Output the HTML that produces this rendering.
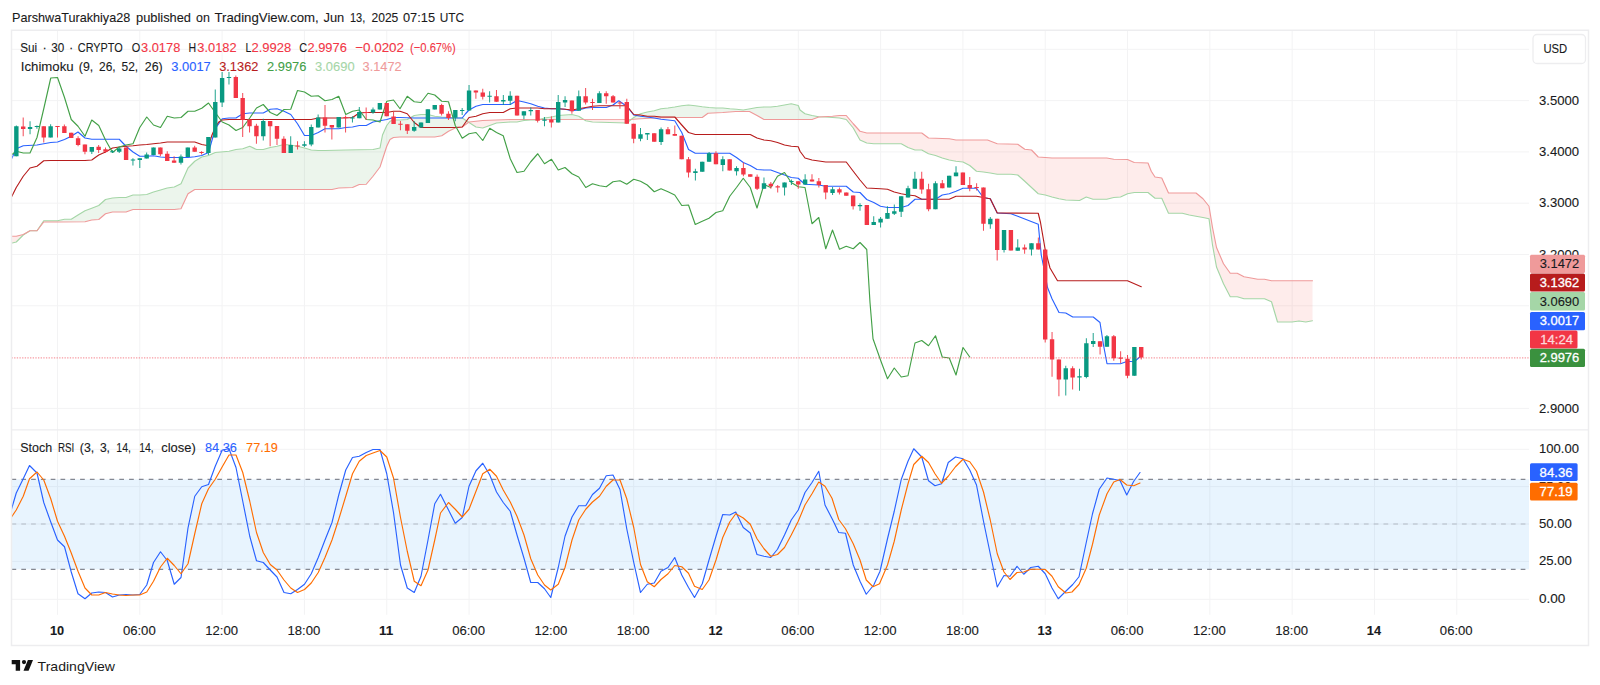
<!DOCTYPE html>
<html lang="en"><head><meta charset="utf-8"><title>Sui chart</title>
<style>
html,body{margin:0;padding:0;background:#fff;}
body{width:1600px;height:685px;overflow:hidden;position:relative;font-family:"Liberation Sans", "DejaVu Sans", sans-serif;}
svg text{white-space:pre;}
</style></head><body>
<svg width="1600" height="685" viewBox="0 0 1600 685" style="position:absolute;left:0;top:0;font-family:'Liberation Sans', 'DejaVu Sans', sans-serif">
<rect x="0" y="0" width="1600" height="685" fill="#ffffff"/>
<path d="M11.5 49.3 H1529 M11.5 100.6 H1529 M11.5 151.9 H1529 M11.5 203.2 H1529 M11.5 254.5 H1529 M11.5 305.8 H1529 M11.5 408.4 H1529 M11.5 449.3 H1529 M11.5 486.6 H1529 M11.5 524 H1529 M11.5 561.4 H1529 M11.5 599.3 H1529 M57.5 30.5 V614.8 M139.81 30.5 V614.8 M222.12 30.5 V614.8 M304.43 30.5 V614.8 M386.74 30.5 V614.8 M469.05 30.5 V614.8 M551.36 30.5 V614.8 M633.67 30.5 V614.8 M715.98 30.5 V614.8 M798.29 30.5 V614.8 M880.6 30.5 V614.8 M962.91 30.5 V614.8 M1045.22 30.5 V614.8 M1127.53 30.5 V614.8 M1209.84 30.5 V614.8 M1292.15 30.5 V614.8 M1374.46 30.5 V614.8 M1456.77 30.5 V614.8" stroke="#f3f3f4" stroke-width="1" fill="none"/>
<rect x="11.5" y="479.3" width="1517.5" height="90" fill="#2196f3" fill-opacity="0.1"/>
<path d="M11.5 479.3 H1529 M11.5 569.3 H1529" stroke="#696c77" stroke-width="1" stroke-dasharray="4.7 5.1" fill="none"/>
<path d="M11.5 524 H1529" stroke="#787b86" stroke-opacity="0.45" stroke-width="1" stroke-dasharray="4.7 5.1" fill="none"/>
<clipPath id="cp"><rect x="11.5" y="30.5" width="1517.5" height="400"/></clipPath>
<g clip-path="url(#cp)">
<path d="M11.25 243.25 L16.25 242 L23.25 235 L29.75 230.91 L30.25 230.75 L36.75 230.75 L37.25 230.38 L37.25 230.43 L36.75 230.75 L30.25 230.75 L29.75 230.89 L23.25 234.5 L16.25 236.25 L11.25 236.25Z" fill="#f44336" fill-opacity="0.1" stroke="none"/>
<path d="M37.25 230.38 L43.75 220.75 L57.25 220.75 L57.75 220.7 L64.25 219.3 L64.75 219.25 L71.25 219.25 L84.75 210.9 L85.25 210.66 L98.75 205.5 L105.25 199.72 L105.75 199.45 L112.25 198.05 L119.25 197.5 L125.75 197.5 L126.25 197.41 L132.75 195.09 L133.25 195 L139.75 195 L146.75 194.5 L153.75 191.93 L167.25 188 L174.25 187 L180.75 183.87 L181.25 183.19 L187.75 168.56 L188.25 167.75 L194.75 161.25 L201.75 157 L208.25 155.56 L208.75 155.39 L215.25 152.5 L228.75 151.27 L235.75 149.56 L242.75 148.75 L249.75 146.25 L256.25 149.38 L256.75 149.5 L263.25 149.5 L270.25 147.5 L277.25 146.19 L283.75 144.56 L284.25 144.52 L290.75 145 L297.75 146.31 L304.75 148.07 L311.25 150 L318.25 150.5 L372.75 149.5 L373.25 149.45 L379.75 148.05 L380.25 146.7 L382.25 136.3 L382.75 134.44 L386.75 125.5 L389.75 121.58 L390.25 121.16 L393.25 120.09 L393.75 120 L400.25 119.98 L407.25 119.5 L414.25 115.5 L420.75 114.54 L427.75 114.5 L428.25 114.56 L434.75 116.25 L455.25 118 L462.25 118 L468.75 122.33 L468.75 122.19 L462.25 127 L455.25 128 L448.75 131.13 L448.25 131.42 L441.75 135.75 L434.75 137 L399.75 137.02 L393.75 137.48 L393.25 137.64 L390.25 139.36 L389.75 140.02 L386.75 146.25 L380.25 166.23 L379.75 167.33 L373.25 175.92 L366.25 184.25 L359.25 184.5 L352.75 187.39 L352.25 187.51 L338.75 188 L332.25 189.44 L331.75 189.5 L194.75 189.5 L188.25 193.59 L187.75 194.29 L181.25 208.21 L180.75 208.78 L174.25 209.5 L133.25 209.5 L132.75 209.59 L126.25 211.91 L125.75 212 L112.75 212 L112.25 212.06 L105.75 213.69 L105.25 213.96 L98.75 219.5 L91.75 220 L85.25 221.69 L84.75 221.75 L43.75 222 L37.25 230.43Z" fill="#43a047" fill-opacity="0.1" stroke="none"/>
<path d="M468.75 122.33 L475.75 126.84 L476.25 127.04 L482.75 128 L496.25 123.09 L496.75 122.98 L510.25 122 L516.75 122 L517.25 121.95 L523.75 120.55 L530.75 120 L537.75 120 L539.75 119.41 L539.75 119.44 L482.75 120.5 L469.25 121.97 L468.75 122.19Z" fill="#f44336" fill-opacity="0.1" stroke="none"/>
<path d="M539.75 119.41 L544.25 118.07 L551.75 116.94 L558.25 115.5 L571.75 114.52 L572.25 114.56 L578.75 116.25 L583.75 119.46 L583.75 119.35 L539.75 119.44Z" fill="#43a047" fill-opacity="0.1" stroke="none"/>
<path d="M583.75 119.46 L585.75 120.75 L592.25 121.95 L626.75 123 L631.75 119.07 L631.75 119.25 L583.75 119.35Z" fill="#f44336" fill-opacity="0.1" stroke="none"/>
<path d="M631.75 119.07 L633.75 117.5 L640.25 113.89 L640.75 113.69 L647.25 112 L654.25 110.75 L660.75 108.82 L661.25 108.72 L674.75 107 L681.75 105.75 L688.25 105.03 L688.75 105.03 L709.25 107.52 L716.25 108 L722.75 108 L743.25 110 L756.75 107.55 L764.25 107 L770.75 107 L777.75 106.21 L791.25 103.75 L798.25 105.5 L799.75 109.36 L800.25 110.19 L804.75 113.56 L805.25 113.81 L812.25 115.55 L818.75 116.75 L821.75 116.86 L821.75 116.84 L818.75 117 L812.25 119.41 L811.75 119.5 L764.25 119.5 L763.75 119.36 L749.75 111.63 L749.25 111.5 L735.75 111.5 L708.25 113.24 L707.75 113.43 L702.25 117.5 L654.25 118 L633.25 119.25 L631.75 119.25Z" fill="#43a047" fill-opacity="0.1" stroke="none"/>
<path d="M821.75 116.86 L839.25 117.98 L846.25 119.5 L853.25 128 L859.75 139.56 L860.25 140.11 L866.75 143 L873.75 143.75 L901.25 143.75 L907.75 147.36 L908.25 147.59 L914.75 149.91 L915.25 150 L921.75 150 L928.25 153.61 L928.75 153.81 L935.25 155.44 L942.25 158 L949.25 160 L956.25 161.28 L962.75 161.97 L963.25 162.13 L969.75 165.5 L976.25 171.04 L976.75 171.28 L990.25 173 L997.25 174.25 L1010.75 174.25 L1017.75 175 L1038.25 193.75 L1045.25 195 L1052.25 197.06 L1059.25 198.8 L1065.75 200 L1079.25 200.49 L1079.75 200.37 L1086.25 197 L1092.75 199.17 L1093.25 199.25 L1106.75 199.25 L1113.75 197.5 L1120.25 197.02 L1120.75 196.88 L1127.25 193.87 L1127.75 193.7 L1134.25 192.5 L1147.75 192.5 L1148.25 192.71 L1154.75 198.04 L1155.25 198.25 L1161.75 198.25 L1168.25 212.69 L1168.75 213.25 L1182.25 213.25 L1189.25 215 L1208.75 218.7 L1209.25 220.62 L1212.25 243.12 L1212.75 246.38 L1216.25 265.62 L1216.75 267.6 L1223.25 283.15 L1223.75 284.23 L1230.25 296.75 L1237.25 296.75 L1243.75 298.68 L1244.25 298.75 L1264.25 298.75 L1264.75 298.86 L1271.25 301.64 L1271.75 302.59 L1277.25 321.16 L1277.75 322 L1291.75 322 L1298.75 321.04 L1299.25 321.04 L1305.75 322 L1312.5 320.75 L1312.5 280.75 L1271.75 280.75 L1271.25 280.7 L1264.75 279.3 L1264.25 279.25 L1257.75 279.25 L1244.25 276.79 L1243.75 276.62 L1237.25 273.25 L1230.25 273.25 L1223.75 264.1 L1223.25 263.17 L1216.75 248.08 L1216.25 246.25 L1212.75 228.75 L1212.25 225.98 L1209.25 207.77 L1208.75 205.94 L1203.25 199.06 L1202.75 198.54 L1196.25 193.21 L1195.75 193 L1168.75 193 L1168.25 192.44 L1161.75 178 L1155.25 177.04 L1154.75 176.62 L1151.25 171.25 L1148.25 163.63 L1147.75 162.99 L1134.25 162.5 L1127.75 159.61 L1127.25 159.5 L1113.75 159.25 L1106.75 158 L1051.75 157.98 L1038.25 157 L1031.75 150.26 L1031.25 149.97 L1024.75 149.25 L1017.75 144.25 L997.25 143.75 L987.75 140.1 L987.25 140 L956.25 140 L955.75 139.95 L949.25 138.75 L928.75 138.01 L928.25 137.81 L921.75 133 L866.75 133 L860.25 131.31 L859.75 130.97 L853.25 123.75 L846.25 115.5 L839.75 115.5 L832.25 116.26 L821.75 116.84Z" fill="#f44336" fill-opacity="0.1" stroke="none"/>
<path d="M11.25 243.25 L16.25 242 L23.25 235 L30 230.75 L37 230.75 L43.75 220.75 L57.5 220.75 L64.5 219.25 L71.25 219.25 L78 215 L85 210.75 L91.75 208.25 L98.75 205.5 L105.5 199.5 L112.5 198 L119.25 197.5 L126 197.5 L133 195 L139.75 195 L146.75 194.5 L153.5 192 L160.5 190 L167.25 188 L174.25 187 L181 183.75 L188 168 L194.75 161.25 L201.75 157 L208.5 155.5 L215.25 152.5 L229 151.25 L236 149.5 L242.75 148.75 L249.75 146.25 L256.5 149.5 L263.25 149.5 L270.25 147.5 L277 146.25 L284 144.5 L290.75 145 L297.5 146.25 L304.5 148 L311.25 150 L318.25 150.5 L325 150.5 L345.75 150 L373 149.5 L380 148 L382.5 135 L386.75 125.5 L390 121.25 L393.5 120 L400 120 L407.25 119.5 L414.25 115.5 L421 114.5 L428 114.5 L434.75 116.25 L441.75 117 L455.25 118 L462.25 118 L469 122.5 L476 127 L482.75 128 L489.75 125.5 L496.5 123 L510.25 122 L517 122 L524 120.5 L530.75 120 L537.75 120 L544.5 118 L551.5 117 L558.25 115.5 L565 115 L572 114.5 L578.75 116.25 L585.75 120.75 L592.5 122 L626.75 123 L633.75 117.5 L640.5 113.75 L647.25 112 L654.25 110.75 L661 108.75 L668 108 L674.75 107 L681.75 105.75 L688.5 105 L695.25 105.75 L702.25 106.75 L709 107.5 L716 108 L722.75 108 L729.75 108.75 L736.5 109.25 L743.25 110 L750.25 108.75 L757 107.5 L764 107 L770.75 107 L777.5 106.25 L784.5 105 L791.25 103.75 L798.25 105.5 L800 110 L805 113.75 L812 115.5 L818.75 116.75 L825.75 117 L832.5 117.5 L839.5 118 L846.25 119.5 L853.25 128 L860 140 L866.75 143 L873.75 143.75 L901.25 143.75 L908 147.5 L915 150 L921.75 150 L928.5 153.75 L935.5 155.5 L942.25 158 L949.25 160 L956 161.25 L963 162 L969.75 165.5 L976.5 171.25 L983.5 172 L990.25 173 L997.25 174.25 L1011 174.25 L1017.75 175 L1024.75 181.25 L1031.5 187.5 L1038.25 193.75 L1045.25 195 L1052 197 L1059 198.75 L1065.75 200 L1079.5 200.5 L1086.25 197 L1093 199.25 L1106.75 199.25 L1113.75 197.5 L1120.5 197 L1127.5 193.75 L1134.25 192.5 L1148 192.5 L1155 198.25 L1161.75 198.25 L1168.5 213.25 L1182.25 213.25 L1189.25 215 L1196 216.25 L1203 217.5 L1209 218.75 L1212.5 245 L1216.5 267 L1223.5 283.75 L1230.25 296.75 L1237.25 296.75 L1244 298.75 L1264.5 298.75 L1271.5 301.75 L1277.5 322 L1292 322 L1299 321 L1305.75 322 L1312.5 320.75" stroke="#a5d6a7" stroke-width="1.15" fill="none" stroke-linejoin="round" stroke-linecap="round"/>
<path d="M11.25 236.25 L16.25 236.25 L23.25 234.5 L30 230.75 L37 230.75 L43.75 222 L57.5 222 L85 221.75 L91.75 220 L98.75 219.5 L105.5 213.75 L112.5 212 L126 212 L133 209.5 L174.25 209.5 L181 208.75 L188 193.75 L194.75 189.5 L332 189.5 L338.75 188 L352.5 187.5 L359.25 184.5 L366.25 184.25 L373 176.25 L380 167 L386.75 146.25 L390 139.5 L393.5 137.5 L400 137 L434.75 137 L441.75 135.75 L448.5 131.25 L455.25 128 L462.25 127 L469 122 L476 121.25 L482.75 120.5 L496.5 120 L510.25 119.5 L633.25 119.25 L640.5 118.75 L654.25 118 L674.75 117.5 L702.25 117.5 L708 113.25 L722.75 112.5 L735.75 111.5 L749.5 111.5 L757 115.5 L764 119.5 L798.25 119.5 L800 119.5 L812 119.5 L818.75 117 L832.5 116.25 L839.5 115.5 L846.25 115.5 L853.25 123.75 L860 131.25 L866.75 133 L921.75 133 L928.5 138 L949.25 138.75 L956 140 L987.5 140 L997.25 143.75 L1017.75 144.25 L1024.75 149.25 L1031.5 150 L1038.25 157 L1052 158 L1106.75 158 L1113.75 159.25 L1127.5 159.5 L1134.25 162.5 L1148 163 L1151.25 171.25 L1155 177 L1161.75 178 L1168.5 193 L1196 193 L1203 198.75 L1209 206.25 L1212.5 227.5 L1216.5 247.5 L1223.5 263.75 L1230.25 273.25 L1237.25 273.25 L1244 276.75 L1251 278 L1257.75 279.25 L1264.5 279.25 L1271.5 280.75 L1312.5 280.75" stroke="#ef9a9a" stroke-width="1.15" fill="none" stroke-linejoin="round" stroke-linecap="round"/>
<path d="M11.25 159.5 L16.25 148.75 L23.25 145.75 L37 145 L43.75 143.75 L50.75 142.5 L57.5 142 L64.5 139.5 L71.25 136.25 L78 132 L85 138 L91.75 139.25 L119.25 139.25 L126 146.25 L133 152 L139.75 156.25 L146.75 156.25 L153.5 155.75 L160.5 157 L167.25 157.5 L188 157.5 L194.75 156.75 L201.75 155.5 L208.5 152.5 L215.25 128.75 L222.25 118.75 L229 118 L236 118 L242.75 113.75 L249.75 113 L256.5 113 L263.25 113 L270.25 109.25 L277 108.75 L284 111.25 L290.75 114.5 L297.5 123.75 L304.5 135.5 L311.25 135.5 L318.25 132.5 L325 128.75 L332 128.75 L338.75 128.75 L345.75 127.5 L352.5 127 L359.25 125.5 L366.25 125.5 L373 122 L380 120.75 L386.75 119.5 L393.5 117.5 L400 117.5 L414.25 118 L421 118 L455.25 118 L462.25 118 L465.5 113.75 L469 110 L476 106.25 L482.75 104.5 L510.25 104.5 L517 100.5 L524 102 L530.75 103.75 L537.75 106.25 L544.5 108 L551.5 108.75 L558.25 108.75 L565 109.25 L572 110.75 L578.75 110 L585.75 108 L592.5 107.5 L606.25 107.5 L613 105 L618.75 100.75 L626.75 106.25 L633.75 115 L640.5 116.25 L647.25 117 L654.25 118 L661 119.25 L668 120 L674.75 120.75 L681.75 132.5 L688.5 149.5 L695.25 153.25 L729.75 153.25 L736.5 157.5 L743.25 162.5 L750.25 165.5 L757 169.5 L764 170 L770.75 170 L777.5 172.5 L784.5 175 L791.25 177.5 L798.25 178.25 L800 180 L805 184.25 L818.75 185 L825.75 186.25 L846.25 186.25 L853.25 192 L860 192.5 L866.75 199.5 L873.75 202.5 L880.5 206.25 L887.5 207.5 L901.25 207.5 L908 205.5 L915 199.25 L921.75 199.25 L928.5 199.25 L935.5 199.25 L942.25 195 L949.25 193.75 L956 191.25 L963 188.25 L976.5 188.25 L983.5 197.75 L990.25 198.75 L997.25 213 L1011 213.75 L1017.75 216.25 L1038.25 224.25 L1041.25 255 L1043.75 267.5 L1047.5 287.5 L1052 298.75 L1059 312.5 L1065.75 313 L1072.75 317 L1093.25 317 L1100 322.5 L1103.5 345 L1107 363.75 L1120.5 363.75 L1127.5 361.25 L1134.25 361.75 L1141.25 355.75" stroke="#2962ff" stroke-width="1.15" fill="none" stroke-linejoin="round" stroke-linecap="round"/>
<path d="M11.25 197.5 L16.25 187.5 L23.25 176.25 L30 168 L37 166.25 L43.75 160.75 L50.75 160.5 L85 160.5 L91.75 160 L98.75 155 L105.5 152 L112.5 148 L119.25 147 L126 146.25 L133 145.75 L139.75 145 L146.75 144.5 L153.5 143.75 L160.5 143 L167.25 142 L174.25 142 L194.75 142 L201.75 144.5 L208.5 145.75 L212 135 L215.25 127.5 L218.75 122 L222.25 120 L229 119.5 L311.25 119.5 L318.25 118 L345.75 118 L352.5 117.5 L359.25 113 L366.25 112.5 L386.75 112.5 L393.5 111.25 L400 111.25 L407.25 113.75 L414.25 122.5 L421 127.5 L428 127.5 L455.25 127.5 L462.25 127 L469 117.5 L476 116.25 L482.75 113.75 L489.75 112.5 L503.25 112.5 L510.25 108.75 L517 108 L537.75 108 L544.5 108.75 L558.25 108.75 L565 109.25 L572 110 L578.75 108.75 L585.75 107.5 L592.5 106.25 L599.5 105.75 L626.75 105.75 L633.75 114.5 L640.5 115 L647.25 116.25 L654.25 116.25 L661 117 L674.75 117 L681.75 125 L688.5 132.5 L695.25 134.5 L750.25 134.5 L757 138 L764 140 L770.75 140.75 L777.5 142.5 L784.5 145 L791.25 146.25 L798.25 146.75 L800 151.25 L805 158 L812 160 L825.75 162 L846.25 162 L853.25 171.25 L860 180 L866.75 188 L880.5 188.75 L887.5 189.25 L894.25 192 L901.25 193.75 L908 195 L915 195.75 L921.75 199.25 L949.25 199.25 L956 196.25 L976.5 196.25 L983.5 197.5 L990.25 198.75 L997.25 213 L1038.25 213.25 L1040.5 222.5 L1045.25 250 L1050 268 L1057.5 280.75 L1127.5 280.75 L1141.25 286.75" stroke="#b71c1c" stroke-width="1.15" fill="none" stroke-linejoin="round" stroke-linecap="round"/>
<path d="M11.25 155 L16.25 151.25 L23.25 153 L30 153 L37 137.5 L43.75 108.75 L50.75 78 L57.5 77.5 L64.5 97.5 L71.25 119.5 L78 126.25 L85 136.25 L91.75 120 L98.75 125.5 L105.5 140 L112.5 152.5 L119.25 147 L126 145 L133 143.75 L139.75 127.5 L146.75 117 L153.5 125 L160.5 127.5 L167.25 116.25 L174.25 118 L181 117.5 L188 111.25 L194.75 111.25 L201.75 108.25 L208.5 103 L215.25 112.5 L222.25 122 L229 125 L236 130.5 L242.75 127.5 L249.75 118 L256.5 108 L263.25 104.5 L270.25 112.5 L277 115.5 L284 109.5 L290.75 109.25 L297.5 90.5 L304.5 92 L311.25 96.25 L318.25 95.75 L325 100.75 L332 99.5 L338.75 96.25 L345.75 114.5 L352.5 111.25 L359.25 110 L366.25 119.5 L373 120 L380 122 L386.75 101.25 L393.5 100 L400 108.75 L407.25 96.25 L414.25 101.75 L421 102.5 L428 93.25 L434.75 95 L441.75 101.25 L448.5 101.75 L455.25 125.5 L462.25 138.25 L469 133.75 L476 132.5 L482.75 140.5 L489.75 128.25 L496.5 132.5 L503.25 135.75 L510.25 158.75 L517 172.5 L524 171.25 L530.75 161.75 L537.75 153.75 L544.5 163.75 L551.5 159.25 L558.25 170 L565 167.5 L572 173.75 L578.75 177 L585.75 187.5 L592.5 183.75 L599.5 185.75 L606.25 186.75 L613 181.75 L620 180.75 L626.75 184.25 L633.75 179.25 L640.5 181.25 L647.25 185 L654.25 191.75 L661 188.75 L668 191.75 L674.75 195 L681.75 205.5 L688.5 205 L695.25 224.5 L702.25 221.25 L709 218.25 L716 212.5 L722.75 210.75 L729.75 196.25 L736.5 187.5 L743.25 178.25 L750.25 187.5 L757 208 L764 184.5 L770.75 187.5 L777.5 176.25 L784.5 172.5 L791.25 182.5 L798.25 186.75 L805 187.5 L812 223.75 L818.75 217.5 L825.75 248.75 L832.5 230 L839.5 249.25 L846.25 246.25 L853.25 248.75 L860 242.5 L866.75 249.5 L870 302.5 L873 338.75 L880.5 360 L887.5 378.75 L894.25 368 L901.25 377 L908 375.75 L915 343 L921.75 340.5 L928.5 345.75 L935.5 335.75 L942.25 357 L949.25 358 L956 375 L963 347.5 L969.75 357" stroke="#43a047" stroke-width="1.15" fill="none" stroke-linejoin="round" stroke-linecap="round"/>
<path d="M16.35 125.5 V156.25M30.06 121.25 V134.25M36.92 125.5 V128.75M50.64 124.25 V137.5M91.8 147 V154M112.37 150 V153M119.23 147.5 V153M132.95 158.25 V165.5M139.81 158.25 V168M146.67 152.5 V158.5M153.53 147.5 V155M180.96 154.5 V164.5M187.82 147.5 V157M208.4 137 V155M215.26 89.5 V137.5M222.12 72 V107M228.97 72 V84.5M263.27 118.75 V140.5M290.71 136.25 V153M304.42 141.25 V147M311.28 124.5 V146.25M318.14 114.5 V127.5M338.72 117 V127.5M352.44 116.25 V122.5M359.3 107 V118.25M373.01 107.5 V113.75M379.87 103 V109.5M414.17 121 V131.75M421.03 122.5 V127.5M427.89 109.25 V123M434.75 105 V109.5M455.32 110 V121.25M462.18 108 V115M469.04 85 V110.5M489.62 91.25 V102.5M503.33 95 V105M510.19 91.25 V105M523.91 111.25 V119.25M530.77 107.5 V115.5M544.49 117 V126.25M558.21 95 V122.5M565.07 96.25 V107M578.78 90.5 V110.75M599.36 91.25 V103M640.51 128 V141.25M647.37 133 V140M661.09 127.5 V145M695.39 168.75 V180.5M702.25 161.75 V171.75M709.11 152 V161.75M722.82 156.25 V171.25M736.54 166.25 V175.5M763.98 177.5 V188.75M784.55 182.5 V195.5M791.41 179.5 V185M805.13 174.25 V184.5M832.57 187 V195M860 203.25 V210.75M873.72 216.25 V225M880.58 217 V227.5M887.44 206.25 V218.75M894.3 204.5 V215M901.16 196.25 V217M908.02 185.75 V197.5M914.88 171.75 V188.75M935.45 181.25 V209.25M949.17 175.75 V187.5M956.03 166.25 V176.25M990.32 217 V228.75M1004.04 230 V252.5M1017.76 239.25 V250.75M1031.48 243.25 V255.5M1065.77 365.75 V395.5M1079.49 368.75 V390.75M1086.35 338.25 V378.25M1093.21 333 V347M1106.93 335 V346.75M1134.36 347 V375.75" stroke="#089981" stroke-width="1" stroke-opacity="0.9" fill="none"/>
<path d="M14.15 126.25h4.4v30h-4.4zM27.86 127h4.4v2h-4.4zM34.72 126h4.4v1h-4.4zM48.44 126.25h4.4v11.25h-4.4zM89.59 147h4.4v4.75h-4.4zM110.17 151.25h4.4v1h-4.4zM117.03 148.5h4.4v3.25h-4.4zM130.75 159.5h4.4v1h-4.4zM137.61 158.25h4.4v1.75h-4.4zM144.47 154.5h4.4v4h-4.4zM151.33 147.5h4.4v7.5h-4.4zM178.76 156.5h4.4v6.25h-4.4zM185.62 147.5h4.4v9.5h-4.4zM206.2 137h4.4v16h-4.4zM213.06 102h4.4v35.5h-4.4zM219.92 78h4.4v24.5h-4.4zM226.78 77h4.4v1h-4.4zM261.07 121h4.4v15.25h-4.4zM288.51 145h4.4v8h-4.4zM302.22 144.25h4.4v1.5h-4.4zM309.08 127h4.4v17.5h-4.4zM315.94 117.5h4.4v10h-4.4zM336.52 117h4.4v10.5h-4.4zM350.24 117.5h4.4v1h-4.4zM357.1 112h4.4v6.25h-4.4zM370.81 109.5h4.4v3h-4.4zM377.67 103h4.4v6.5h-4.4zM411.97 127h4.4v3.75h-4.4zM418.83 122.5h4.4v5h-4.4zM425.69 109.25h4.4v13.75h-4.4zM432.55 105h4.4v4.5h-4.4zM453.12 110h4.4v7.75h-4.4zM459.98 109.88h4.4v1h-4.4zM466.84 90.5h4.4v20h-4.4zM487.42 95.75h4.4v1h-4.4zM501.13 100h4.4v1.5h-4.4zM507.99 95.75h4.4v5h-4.4zM521.71 111.25h4.4v4.25h-4.4zM528.57 110h4.4v1.25h-4.4zM542.29 119.5h4.4v1.25h-4.4zM556.01 102h4.4v20.5h-4.4zM562.87 100h4.4v2.5h-4.4zM576.58 96.25h4.4v14.5h-4.4zM597.16 93.25h4.4v9.75h-4.4zM638.31 134.25h4.4v4.5h-4.4zM645.17 133h4.4v1.5h-4.4zM658.89 129.25h4.4v12.75h-4.4zM693.19 171.25h4.4v1.75h-4.4zM700.05 161.75h4.4v10h-4.4zM706.9 153.25h4.4v8.5h-4.4zM720.62 159.25h4.4v5.75h-4.4zM734.34 168h4.4v3.25h-4.4zM761.78 183.25h4.4v5.5h-4.4zM782.35 182.5h4.4v5h-4.4zM789.21 181h4.4v1h-4.4zM802.93 179.5h4.4v5h-4.4zM830.37 189.25h4.4v3.75h-4.4zM857.8 205h4.4v1.25h-4.4zM871.52 222h4.4v3h-4.4zM878.38 218.75h4.4v3.75h-4.4zM885.24 213h4.4v5.75h-4.4zM892.1 211.25h4.4v2.5h-4.4zM898.96 196.25h4.4v15.5h-4.4zM905.82 188.25h4.4v9.25h-4.4zM912.67 178.75h4.4v10h-4.4zM933.25 183.25h4.4v26h-4.4zM946.97 175.75h4.4v11.75h-4.4zM953.83 172.5h4.4v3.75h-4.4zM988.12 218.75h4.4v5.5h-4.4zM1001.84 230h4.4v20h-4.4zM1015.56 247.5h4.4v3.25h-4.4zM1029.28 243.25h4.4v6.25h-4.4zM1063.57 368.25h4.4v11.25h-4.4zM1077.29 376.25h4.4v1.25h-4.4zM1084.15 343.25h4.4v33.75h-4.4zM1091.01 341h4.4v3h-4.4zM1104.73 336.25h4.4v10.5h-4.4zM1132.16 347h4.4v28.75h-4.4z" fill="#089981"/>
<path d="M23.2 117.5 V136.25M43.78 126.25 V142.5M57.5 126.25 V137.5M64.36 124.5 V133M71.22 132.75 V138M78.08 136.25 V146.25M84.94 144.5 V154.25M98.65 145 V153M105.51 147.5 V153M126.09 147.5 V160M160.38 147.5 V156.25M167.24 151.25 V161M174.1 156.25 V162.75M194.68 145.75 V151.75M201.54 151.25 V154.5M235.83 75.5 V98M242.69 93 V137M249.55 119.5 V132.5M256.41 123.75 V143.75M270.13 121 V146.25M276.99 126 V145M283.85 136.25 V153M297.56 141.25 V149.5M325 105 V132.5M331.86 125 V139.5M345.58 115.5 V132.5M366.15 107.5 V120M386.73 103 V116.25M393.59 112 V124M400.45 121 V130.25M407.31 124.25 V134M441.6 103.75 V115.5M448.46 111.25 V120M475.9 90.5 V98.75M482.76 88.75 V99.5M496.48 90 V101.75M517.05 95.75 V115.5M537.63 110 V122.5M551.35 116.25 V127.5M571.92 100.5 V113.75M585.64 88 V104.5M592.5 98.75 V110M606.22 91.25 V103.75M613.08 95 V102.5M619.94 101.25 V108.75M626.8 98.75 V123.75M633.66 123.75 V143.25M654.23 133.25 V141.75M667.95 127 V134.25M674.81 125.5 V135.75M681.67 135.75 V159.25M688.53 157 V177.5M715.96 151.25 V164.25M729.68 159.25 V170.5M743.4 162.5 V176.25M750.26 174.25 V176.75M757.12 174.5 V190M770.84 182 V188.75M777.7 185 V192.5M798.27 181.25 V188.75M811.99 174.25 V181.5M818.85 178 V187.5M825.71 185 V199.25M839.43 187.5 V194.5M846.28 192.5 V195.75M853.14 195.5 V209.5M866.86 205 V225M921.73 171.75 V193.75M928.59 183.75 V211.25M942.31 180 V188.25M962.89 172.5 V185M969.75 177 V191.25M976.61 183.25 V190.5M983.47 187.5 V230.75M997.18 218.75 V260.5M1010.9 230 V250.5M1024.62 244.5 V253.75M1038.34 237.5 V249.5M1045.2 249.5 V342.5M1052.05 332 V376.75M1058.91 359.5 V396.25M1072.63 366.25 V389.5M1100.07 341.25 V354.5M1113.79 335 V360.75M1120.64 351.25 V363.25M1127.5 355 V378.25M1141.22 347 V359.5" stroke="#f23645" stroke-width="1" stroke-opacity="0.9" fill="none"/>
<path d="M21 126.5h4.4v2.5h-4.4zM41.58 126.25h4.4v11.25h-4.4zM55.3 126.12h4.4v1h-4.4zM62.16 126.25h4.4v6.75h-4.4zM69.02 132.75h4.4v5.25h-4.4zM75.88 138.25h4.4v6.75h-4.4zM82.74 144.5h4.4v7.25h-4.4zM96.45 146.75h4.4v3.25h-4.4zM103.31 149.25h4.4v2.5h-4.4zM123.89 147.5h4.4v12.5h-4.4zM158.19 147.5h4.4v6.75h-4.4zM165.04 153.75h4.4v7.25h-4.4zM171.9 160.5h4.4v2.25h-4.4zM192.48 147.5h4.4v4.25h-4.4zM199.34 152h4.4v1h-4.4zM233.63 77h4.4v21h-4.4zM240.49 98h4.4v22h-4.4zM247.35 119.5h4.4v6.75h-4.4zM254.21 125.75h4.4v10.5h-4.4zM267.93 121h4.4v5.25h-4.4zM274.79 126h4.4v12.75h-4.4zM281.65 138.75h4.4v14.25h-4.4zM295.37 145.5h4.4v1h-4.4zM322.8 117.5h4.4v8.25h-4.4zM329.66 125h4.4v2.5h-4.4zM343.38 117h4.4v1h-4.4zM363.95 112h4.4v1h-4.4zM384.53 103h4.4v13.25h-4.4zM391.39 116.5h4.4v7.5h-4.4zM398.25 123.75h4.4v1h-4.4zM405.11 124.25h4.4v6.5h-4.4zM439.4 105h4.4v8.75h-4.4zM446.26 113.75h4.4v4.25h-4.4zM473.7 90.5h4.4v2h-4.4zM480.56 92.5h4.4v4.25h-4.4zM494.28 96.25h4.4v5.5h-4.4zM514.85 95.75h4.4v19.75h-4.4zM535.43 110h4.4v10.75h-4.4zM549.15 119.5h4.4v3h-4.4zM569.72 100.5h4.4v10.75h-4.4zM583.44 96.25h4.4v6.25h-4.4zM590.3 102h4.4v1h-4.4zM604.02 93.25h4.4v3h-4.4zM610.88 96.25h4.4v6.25h-4.4zM617.74 102.5h4.4v1h-4.4zM624.6 102h4.4v21.75h-4.4zM631.46 123.75h4.4v15h-4.4zM652.03 133.25h4.4v8.5h-4.4zM665.75 129.25h4.4v5h-4.4zM672.61 134h4.4v1.75h-4.4zM679.47 135.75h4.4v23.5h-4.4zM686.33 159.25h4.4v13.25h-4.4zM713.76 153.25h4.4v11h-4.4zM727.48 159.25h4.4v11.25h-4.4zM741.2 168h4.4v6.5h-4.4zM748.06 174.25h4.4v2.5h-4.4zM754.92 176.75h4.4v12h-4.4zM768.64 183.75h4.4v2.5h-4.4zM775.5 186.25h4.4v1.25h-4.4zM796.07 181.25h4.4v3.25h-4.4zM809.79 179.5h4.4v2h-4.4zM816.65 181.25h4.4v3.75h-4.4zM823.51 185h4.4v7.5h-4.4zM837.23 189.25h4.4v3.25h-4.4zM844.08 192.5h4.4v3.25h-4.4zM850.94 195.5h4.4v10.75h-4.4zM864.66 205h4.4v20h-4.4zM919.53 178.75h4.4v10.75h-4.4zM926.39 189.25h4.4v20h-4.4zM940.11 183.25h4.4v5h-4.4zM960.69 172.5h4.4v12.5h-4.4zM967.55 185h4.4v3.25h-4.4zM974.41 187h4.4v1h-4.4zM981.26 187.5h4.4v36.25h-4.4zM994.98 218.75h4.4v31.25h-4.4zM1008.7 230h4.4v20.5h-4.4zM1022.42 247.5h4.4v2h-4.4zM1036.14 243.25h4.4v6.25h-4.4zM1043 249.5h4.4v90h-4.4zM1049.85 339.25h4.4v20.25h-4.4zM1056.71 359.5h4.4v20h-4.4zM1070.43 368.25h4.4v9.25h-4.4zM1097.87 341.25h4.4v5.5h-4.4zM1111.59 336.25h4.4v22h-4.4zM1118.44 357.5h4.4v1.25h-4.4zM1125.3 358.75h4.4v17h-4.4zM1139.02 347h4.4v10.5h-4.4z" fill="#f23645"/>
<path d="M11.5 357.9 H1529" stroke="#f23645" stroke-width="1.2" stroke-dasharray="1.3 1.35" stroke-opacity="0.5" fill="none"/>
</g>
<clipPath id="cp2"><rect x="11.5" y="430.5" width="1517.5" height="184.3"/></clipPath>
<g clip-path="url(#cp2)">
<path d="M11.25 510 L16.25 493 L23.25 478.75 L29.5 465.5 L37 473 L43.75 502.5 L50.75 522 L57.5 540 L64.5 546.75 L71.25 572 L78 593.75 L85 598.75 L91.75 593 L98.75 592 L105.5 592.5 L112.5 597 L119.25 595 L126 594.5 L133 595 L139.75 594.5 L146.75 585 L153.5 562.5 L160.5 551.75 L167.25 560.5 L174.25 584.25 L181 577.5 L188 528 L194.75 496.25 L201.75 486.75 L208.5 484.5 L215.25 466.25 L222.25 450 L229 448.75 L236 467.5 L242.75 501.25 L249.75 536.25 L256.5 560.75 L263.25 562.5 L270.25 570 L277 577 L284 592.5 L290.75 593.75 L297.5 589.5 L304.5 584.25 L311.25 573.75 L318.25 557.5 L325 540 L332 522.5 L338.75 495 L345.75 470 L352.5 457.5 L359.25 456.25 L366.25 452.5 L373 449.5 L380 449.5 L386.75 473.75 L393.5 512.5 L400.5 565 L407.25 588 L414.25 592.5 L421 576.25 L428 540 L434.75 503.75 L440.5 494.25 L448.5 510 L455.25 523.25 L462.25 517.5 L469 486.25 L476 470.75 L482.75 463.25 L489.75 475 L496.5 492 L503.25 502.5 L510.25 511.25 L517 535 L524 558.25 L530.75 582.5 L537.75 582.5 L544.5 588.75 L550.75 597.5 L558.25 567.5 L565 536.25 L572 517 L578.75 505.75 L585.75 505.75 L592.5 494.5 L599.5 488.25 L606.25 475.75 L613 475 L620 489.5 L626.75 528.75 L633.75 562.5 L640.5 592.5 L647.25 584.25 L654.25 583 L661 571.25 L668 567.5 L674.75 557.5 L681.75 575 L688.5 587.5 L694.5 597.5 L702.25 583.75 L709 560 L716 536.25 L722.75 514.5 L729.75 515 L735.75 512 L743.25 527.5 L750.25 533 L757 554.5 L764 556.25 L770.75 557.5 L777.5 549.25 L784.5 535 L791.25 520 L798.25 510 L805 492.5 L812 482.5 L818.75 471.25 L825 505 L832.5 519.5 L838.75 532.5 L845.5 533.25 L853.25 565 L860 581.25 L866.25 594.25 L873.75 585 L880 571.25 L887.5 538.75 L894.25 511.25 L901.25 479.5 L908 461.25 L913.75 448.75 L921.75 457 L928.5 480.75 L935 485.75 L941.5 483.75 L948.25 462.5 L955.5 457 L963 458.75 L969.75 470 L976.5 485 L983.5 521.25 L990.25 553.75 L997.25 587 L1004 575.5 L1010 576.25 L1017 566.25 L1023.75 574.25 L1030.75 567.5 L1038.25 566.25 L1045.25 573.75 L1052 588 L1058.25 598.75 L1065.75 591.25 L1072.75 584.5 L1079 576.75 L1086.25 542.5 L1092.5 513.75 L1099.25 489.25 L1107 478 L1113.75 479.25 L1120 480.5 L1126.75 495 L1133.75 481.25 L1140 472.5" stroke="#2962ff" stroke-width="1.15" fill="none" stroke-linejoin="round" stroke-linecap="round"/>
<path d="M11.25 517.5 L16.25 510 L23.25 496.25 L29.5 478.75 L37 472 L43.75 480 L50.75 498.75 L57.5 521.25 L64.5 536.25 L71.25 553 L78 571.25 L85 588 L91.75 595 L98.75 595 L105.5 592.5 L112.5 594 L119.25 595 L126 595.5 L133 595 L139.75 595 L146.75 592 L153.5 581.25 L160.5 567 L167.25 558.25 L174.25 565.5 L181 573.75 L188 563.75 L194.75 533.75 L201.75 503.75 L208.5 488.75 L215.25 479.25 L222.25 466.75 L229 455 L236 455 L242.75 472.5 L249.75 501.25 L256.5 532.5 L263.25 552.5 L270.25 564.5 L277 570 L284 580 L290.75 588 L297.5 592.5 L304.5 589.5 L311.25 583 L318.25 572.5 L325 557.5 L332 540 L338.75 519.25 L345.75 496.25 L352.5 473.75 L359.25 461.25 L366.25 455.5 L373 453 L380 450.5 L386.75 457 L393.5 478 L400.5 517.5 L407.25 551.25 L414.25 581.25 L421 585.75 L428 570 L434.75 540 L440.5 513 L448.5 502.5 L455.25 509.25 L462.25 517 L469 509.25 L476 491.25 L482.75 473.75 L489.75 469.25 L496.5 476.25 L503.25 490 L510.25 502 L517 516.25 L524 535 L530.75 558.75 L537.75 575 L544.5 585 L550.75 590 L558.25 584.25 L565 567.5 L572 540 L578.75 520 L585.75 509.25 L592.5 502 L599.5 496.25 L606.25 486.25 L613 480 L620 480 L626.75 498.75 L633.75 527.5 L640.5 564.5 L647.25 581.75 L654.25 586.75 L661 579.5 L668 573.75 L674.75 565.5 L681.75 566.75 L688.5 573.25 L694.5 586.25 L702.25 589.5 L709 580 L716 560 L722.75 537.5 L729.75 522 L735.75 513.75 L743.25 518 L750.25 524.25 L757 538.75 L764 548.75 L770.75 556.25 L777.5 554.5 L784.5 547.5 L791.25 535 L798.25 521.25 L805 505 L812 493.75 L818.75 482 L825 486.25 L832 498.25 L838.75 519.5 L845.5 528.75 L853.25 543.75 L860 560 L866.25 580 L873 586.75 L879.5 583.75 L887.5 565 L894.25 541.25 L901.25 510 L908 483.75 L913.75 464.5 L921.75 456.25 L928.5 462.5 L935 473.75 L941.5 483.25 L948.25 476.25 L955.5 466.75 L963 459.25 L969.75 461.75 L976.5 471.25 L983.5 492 L990.25 520 L997.25 553.75 L1004 572 L1010 579.5 L1017 572.5 L1023.75 572 L1030.75 569.25 L1038.25 569.25 L1045.25 569.5 L1052 576.25 L1058.25 586.75 L1065.75 593 L1072 592 L1079 584.5 L1086.25 568.25 L1092.5 544.25 L1099.25 515 L1107 493.75 L1113.75 482 L1120 479.5 L1126.75 485 L1133.75 485.75 L1140 483" stroke="#ff6d00" stroke-width="1.15" fill="none" stroke-linejoin="round" stroke-linecap="round"/>
</g>
<path d="M11.5 30.2 H1588.5 V645.5 H11.5 Z" stroke="#ededef" stroke-width="1.5" fill="none"/>
<path d="M11.5 429.9 H1588.5" stroke="#ededef" stroke-width="1.4" fill="none"/>
<text y="21.8" font-size="12.9" fill="#1a1a1a" stroke="#1a1a1a" stroke-width="0.1"><tspan x="12" textLength="118.3" lengthAdjust="spacingAndGlyphs">ParshwaTurakhiya28</tspan> <tspan x="136" textLength="55" lengthAdjust="spacingAndGlyphs">published</tspan> <tspan x="196" textLength="13.8" lengthAdjust="spacingAndGlyphs">on</tspan> <tspan x="214.5" textLength="104.3" lengthAdjust="spacingAndGlyphs">TradingView.com,</tspan> <tspan x="323.5" textLength="20.8" lengthAdjust="spacingAndGlyphs">Jun</tspan> <tspan x="350" textLength="15.3" lengthAdjust="spacingAndGlyphs">13,</tspan> <tspan x="371.5" textLength="26.8" lengthAdjust="spacingAndGlyphs">2025</tspan> <tspan x="403" textLength="32" lengthAdjust="spacingAndGlyphs">07:15</tspan> <tspan x="439.8" textLength="24.4" lengthAdjust="spacingAndGlyphs">UTC</tspan></text>
<text y="52" font-size="12.9" fill="#181a20" stroke="#181a20" stroke-width="0.1"><tspan x="20.3" textLength="16.9" lengthAdjust="spacingAndGlyphs">Sui</tspan> <tspan x="42.6">·</tspan> <tspan x="51.3" textLength="13" lengthAdjust="spacingAndGlyphs">30</tspan> <tspan x="69.1">·</tspan> <tspan x="77.8" textLength="45" lengthAdjust="spacingAndGlyphs">CRYPTO</tspan> <tspan x="131.7" textLength="8.5" lengthAdjust="spacingAndGlyphs">O</tspan> <tspan x="141" textLength="39.3" lengthAdjust="spacingAndGlyphs" fill="#f23645" stroke="#f23645">3.0178</tspan> <tspan x="188.6" textLength="7.6" lengthAdjust="spacingAndGlyphs">H</tspan> <tspan x="197.3" textLength="39.3" lengthAdjust="spacingAndGlyphs" fill="#f23645" stroke="#f23645">3.0182</tspan> <tspan x="245.6" textLength="5.4" lengthAdjust="spacingAndGlyphs">L</tspan> <tspan x="251.5" textLength="39.7" lengthAdjust="spacingAndGlyphs" fill="#f23645" stroke="#f23645">2.9928</tspan> <tspan x="299.2" textLength="7.8" lengthAdjust="spacingAndGlyphs">C</tspan> <tspan x="307.5" textLength="39.3" lengthAdjust="spacingAndGlyphs" fill="#f23645" stroke="#f23645">2.9976</tspan> <tspan x="355.2" textLength="48.8" lengthAdjust="spacingAndGlyphs" fill="#f23645" stroke="#f23645">−0.0202</tspan> <tspan x="410" textLength="45.8" lengthAdjust="spacingAndGlyphs" fill="#f23645" stroke="#f23645">(−0.67%)</tspan></text>
<text y="70.6" font-size="12.9" fill="#181a20" stroke="#181a20" stroke-width="0.1"><tspan x="20.8" textLength="52.9" lengthAdjust="spacingAndGlyphs">Ichimoku</tspan> <tspan x="78.8" textLength="14.4" lengthAdjust="spacingAndGlyphs">(9,</tspan> <tspan x="99.1" textLength="16.6" lengthAdjust="spacingAndGlyphs">26,</tspan> <tspan x="121.6" textLength="16.6" lengthAdjust="spacingAndGlyphs">52,</tspan> <tspan x="144.8" textLength="17.9" lengthAdjust="spacingAndGlyphs">26)</tspan> <tspan x="171.3" textLength="39.5" lengthAdjust="spacingAndGlyphs" fill="#2962ff" stroke="#2962ff">3.0017</tspan> <tspan x="219.2" textLength="39.2" lengthAdjust="spacingAndGlyphs" fill="#b71c1c" stroke="#b71c1c">3.1362</tspan> <tspan x="267.1" textLength="39.3" lengthAdjust="spacingAndGlyphs" fill="#43a047" stroke="#43a047">2.9976</tspan> <tspan x="315.1" textLength="39.5" lengthAdjust="spacingAndGlyphs" fill="#a5d6a7" stroke="#a5d6a7">3.0690</tspan> <tspan x="362.6" textLength="39" lengthAdjust="spacingAndGlyphs" fill="#ef9a9a" stroke="#ef9a9a">3.1472</tspan></text>
<text y="452.2" font-size="12.9" fill="#181a20" stroke="#181a20" stroke-width="0.1"><tspan x="20.3" textLength="31.9" lengthAdjust="spacingAndGlyphs">Stoch</tspan> <tspan x="57.9" textLength="16.3" lengthAdjust="spacingAndGlyphs">RSI</tspan> <tspan x="79.8" textLength="14.4" lengthAdjust="spacingAndGlyphs">(3,</tspan> <tspan x="99.9" textLength="10.1" lengthAdjust="spacingAndGlyphs">3,</tspan> <tspan x="116.3" textLength="14.7" lengthAdjust="spacingAndGlyphs">14,</tspan> <tspan x="139.2" textLength="14.6" lengthAdjust="spacingAndGlyphs">14,</tspan> <tspan x="161.2" textLength="34.5" lengthAdjust="spacingAndGlyphs">close)</tspan> <tspan x="205" textLength="31.8" lengthAdjust="spacingAndGlyphs" fill="#2962ff" stroke="#2962ff">84.36</tspan> <tspan x="246.1" textLength="31.8" lengthAdjust="spacingAndGlyphs" fill="#ff6d00" stroke="#ff6d00">77.19</tspan></text>
<text x="1539" y="104.7" font-size="12.9" fill="#181a20" textLength="40" lengthAdjust="spacingAndGlyphs" stroke="#181a20" stroke-width="0.1">3.5000</text>
<text x="1539" y="156" font-size="12.9" fill="#181a20" textLength="40" lengthAdjust="spacingAndGlyphs" stroke="#181a20" stroke-width="0.1">3.4000</text>
<text x="1539" y="207.3" font-size="12.9" fill="#181a20" textLength="40" lengthAdjust="spacingAndGlyphs" stroke="#181a20" stroke-width="0.1">3.3000</text>
<text x="1539" y="258.6" font-size="12.9" fill="#181a20" textLength="40" lengthAdjust="spacingAndGlyphs" stroke="#181a20" stroke-width="0.1">3.2000</text>
<text x="1539" y="412.5" font-size="12.9" fill="#181a20" textLength="40" lengthAdjust="spacingAndGlyphs" stroke="#181a20" stroke-width="0.1">2.9000</text>
<text x="1539" y="453.3" font-size="12.9" fill="#181a20" textLength="39.9" lengthAdjust="spacingAndGlyphs" stroke="#181a20" stroke-width="0.1">100.00</text>
<text x="1539" y="528" font-size="12.9" fill="#181a20" textLength="32.9" lengthAdjust="spacingAndGlyphs" stroke="#181a20" stroke-width="0.1">50.00</text>
<text x="1539" y="565.4" font-size="12.9" fill="#181a20" textLength="32.9" lengthAdjust="spacingAndGlyphs" stroke="#181a20" stroke-width="0.1">25.00</text>
<text x="1539" y="603.3" font-size="12.9" fill="#181a20" textLength="26.4" lengthAdjust="spacingAndGlyphs" stroke="#181a20" stroke-width="0.1">0.00</text>
<rect x="1533" y="34.5" width="52.5" height="29" rx="4" ry="4" fill="#ffffff" stroke="#ededef" stroke-width="1.3"/>
<text x="1543.4" y="52.7" font-size="12.9" fill="#181a20" textLength="23.8" lengthAdjust="spacingAndGlyphs" stroke="#181a20" stroke-width="0.1">USD</text>
<rect x="1530" y="254.7" width="55" height="18.3" rx="1.5" ry="1.5" fill="#ef9a9a"/>
<text x="1539.7" y="268.15" font-size="12.9" fill="#181a20" textLength="39.5" lengthAdjust="spacingAndGlyphs" stroke="#181a20" stroke-width="0.1">3.1472</text>
<rect x="1530" y="273.4" width="55" height="18.2" rx="1.5" ry="1.5" fill="#b71c1c"/>
<text x="1539.7" y="286.8" font-size="12.9" fill="#ffffff" textLength="39.5" lengthAdjust="spacingAndGlyphs" stroke="#ffffff" stroke-width="0.3">3.1362</text>
<rect x="1530" y="292" width="55" height="18.6" rx="1.5" ry="1.5" fill="#a5d6a7"/>
<text x="1539.7" y="305.6" font-size="12.9" fill="#181a20" textLength="39.5" lengthAdjust="spacingAndGlyphs" stroke="#181a20" stroke-width="0.1">3.0690</text>
<rect x="1530" y="311.9" width="55" height="18.4" rx="1.5" ry="1.5" fill="#2962ff"/>
<text x="1539.7" y="325.4" font-size="12.9" fill="#ffffff" textLength="39.5" lengthAdjust="spacingAndGlyphs" stroke="#ffffff" stroke-width="0.3">3.0017</text>
<rect x="1530" y="330.5" width="47.5" height="18.1" rx="1.5" ry="1.5" fill="#f23645"/>
<text x="1540.3" y="343.85" font-size="12.9" fill="#fdd9dc" textLength="32.8" lengthAdjust="spacingAndGlyphs" stroke="#fdd9dc" stroke-width="0.3">14:24</text>
<rect x="1530" y="348.7" width="55" height="18.3" rx="1.5" ry="1.5" fill="#3a913e"/>
<text x="1539.7" y="362.15" font-size="12.9" fill="#ffffff" textLength="39.5" lengthAdjust="spacingAndGlyphs" stroke="#ffffff" stroke-width="0.3">2.9976</text>
<text x="1539" y="490.7" font-size="12.9" fill="#181a20" textLength="32.5" lengthAdjust="spacingAndGlyphs" stroke="#181a20" stroke-width="0.1">75.00</text>
<rect x="1530" y="463.3" width="47.6" height="17.8" rx="1.5" fill="#2962ff"/>
<text x="1539.6" y="476.6" font-size="12.9" fill="#ffffff" textLength="33" lengthAdjust="spacingAndGlyphs" stroke="#ffffff" stroke-width="0.3">84.36</text>
<rect x="1530" y="482.7" width="47.6" height="17.8" rx="1.5" fill="#ff6d00"/>
<text x="1539.6" y="496" font-size="12.9" fill="#ffffff" textLength="33" lengthAdjust="spacingAndGlyphs" stroke="#ffffff" stroke-width="0.3">77.19</text>
<text x="57" y="634.8" font-size="12.9" fill="#181a20" font-weight="bold" textLength="14.2" lengthAdjust="spacingAndGlyphs" text-anchor="middle" stroke="#181a20" stroke-width="0.1">10</text>
<text x="139.31" y="634.8" font-size="12.9" fill="#181a20" textLength="32.8" lengthAdjust="spacingAndGlyphs" text-anchor="middle" stroke="#181a20" stroke-width="0.1">06:00</text>
<text x="221.62" y="634.8" font-size="12.9" fill="#181a20" textLength="32.8" lengthAdjust="spacingAndGlyphs" text-anchor="middle" stroke="#181a20" stroke-width="0.1">12:00</text>
<text x="303.93" y="634.8" font-size="12.9" fill="#181a20" textLength="32.8" lengthAdjust="spacingAndGlyphs" text-anchor="middle" stroke="#181a20" stroke-width="0.1">18:00</text>
<text x="386.24" y="634.8" font-size="12.9" fill="#181a20" font-weight="bold" textLength="14.2" lengthAdjust="spacingAndGlyphs" text-anchor="middle" stroke="#181a20" stroke-width="0.1">11</text>
<text x="468.55" y="634.8" font-size="12.9" fill="#181a20" textLength="32.8" lengthAdjust="spacingAndGlyphs" text-anchor="middle" stroke="#181a20" stroke-width="0.1">06:00</text>
<text x="550.86" y="634.8" font-size="12.9" fill="#181a20" textLength="32.8" lengthAdjust="spacingAndGlyphs" text-anchor="middle" stroke="#181a20" stroke-width="0.1">12:00</text>
<text x="633.17" y="634.8" font-size="12.9" fill="#181a20" textLength="32.8" lengthAdjust="spacingAndGlyphs" text-anchor="middle" stroke="#181a20" stroke-width="0.1">18:00</text>
<text x="715.48" y="634.8" font-size="12.9" fill="#181a20" font-weight="bold" textLength="14.2" lengthAdjust="spacingAndGlyphs" text-anchor="middle" stroke="#181a20" stroke-width="0.1">12</text>
<text x="797.79" y="634.8" font-size="12.9" fill="#181a20" textLength="32.8" lengthAdjust="spacingAndGlyphs" text-anchor="middle" stroke="#181a20" stroke-width="0.1">06:00</text>
<text x="880.1" y="634.8" font-size="12.9" fill="#181a20" textLength="32.8" lengthAdjust="spacingAndGlyphs" text-anchor="middle" stroke="#181a20" stroke-width="0.1">12:00</text>
<text x="962.41" y="634.8" font-size="12.9" fill="#181a20" textLength="32.8" lengthAdjust="spacingAndGlyphs" text-anchor="middle" stroke="#181a20" stroke-width="0.1">18:00</text>
<text x="1044.72" y="634.8" font-size="12.9" fill="#181a20" font-weight="bold" textLength="14.2" lengthAdjust="spacingAndGlyphs" text-anchor="middle" stroke="#181a20" stroke-width="0.1">13</text>
<text x="1127.03" y="634.8" font-size="12.9" fill="#181a20" textLength="32.8" lengthAdjust="spacingAndGlyphs" text-anchor="middle" stroke="#181a20" stroke-width="0.1">06:00</text>
<text x="1209.34" y="634.8" font-size="12.9" fill="#181a20" textLength="32.8" lengthAdjust="spacingAndGlyphs" text-anchor="middle" stroke="#181a20" stroke-width="0.1">12:00</text>
<text x="1291.65" y="634.8" font-size="12.9" fill="#181a20" textLength="32.8" lengthAdjust="spacingAndGlyphs" text-anchor="middle" stroke="#181a20" stroke-width="0.1">18:00</text>
<text x="1373.96" y="634.8" font-size="12.9" fill="#181a20" font-weight="bold" textLength="14.2" lengthAdjust="spacingAndGlyphs" text-anchor="middle" stroke="#181a20" stroke-width="0.1">14</text>
<text x="1456.27" y="634.8" font-size="12.9" fill="#181a20" textLength="32.8" lengthAdjust="spacingAndGlyphs" text-anchor="middle" stroke="#181a20" stroke-width="0.1">06:00</text>
<g fill="#111111"><path d="M11.7 660.1h8.4v10.7h-4.4v-6.5h-4z"/><circle cx="24" cy="662.1" r="2.1"/><path d="M27.9 660.1h5.1l-4.4 10.7h-5.1z"/></g>
<text x="37.6" y="670.5" font-size="13.6" fill="#1a1a1a" textLength="77.4" lengthAdjust="spacingAndGlyphs">TradingView</text>
</svg>
</body></html>
